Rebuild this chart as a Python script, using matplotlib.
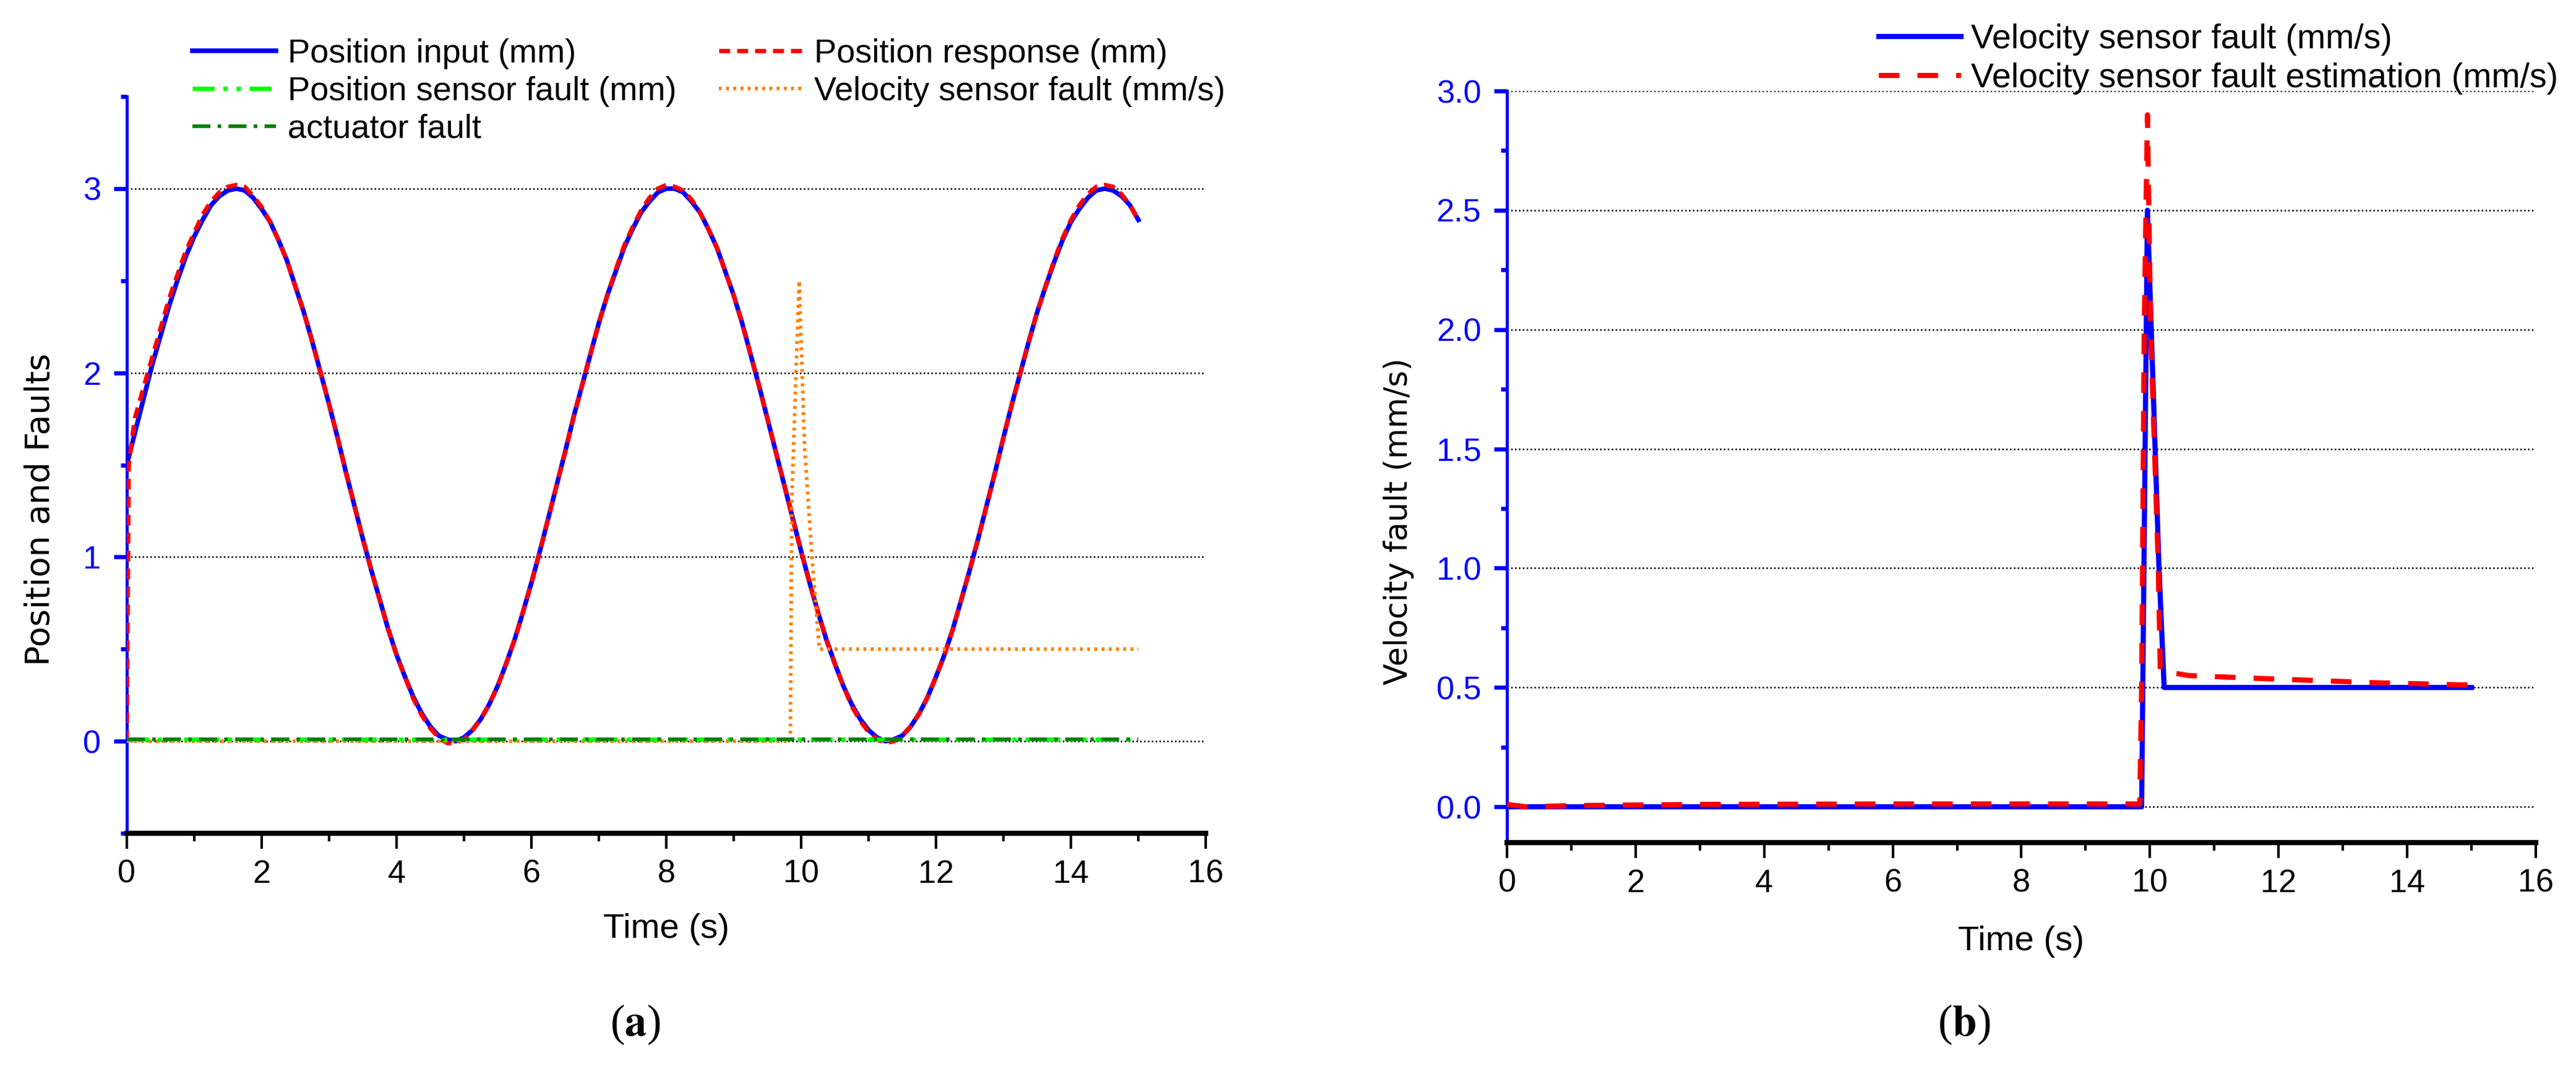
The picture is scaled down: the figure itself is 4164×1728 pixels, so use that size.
import numpy as np
import matplotlib
matplotlib.use("Agg")
import matplotlib.pyplot as plt
from matplotlib.ticker import MultipleLocator, FormatStrFormatter

# ---- data ----
# panel (a): position tracking, read every 0.125 s
time_a = np.linspace(0, 15, 121)
position_input = [1.50, 1.68, 1.86, 2.04, 2.20, 2.36, 2.50, 2.63,
                  2.74, 2.83, 2.91, 2.96, 2.99, 3.00, 2.99, 2.95,
                  2.89, 2.82, 2.72, 2.61, 2.47, 2.33, 2.17, 2.00,
                  1.83, 1.65, 1.46, 1.28, 1.10, 0.93, 0.77, 0.61,
                  0.47, 0.35, 0.24, 0.15, 0.08, 0.03, 0.01, 0.00,
                  0.02, 0.06, 0.12, 0.20, 0.30, 0.42, 0.55, 0.70,
                  0.86, 1.03, 1.21, 1.39, 1.57, 1.76, 1.93, 2.10,
                  2.27, 2.42, 2.55, 2.68, 2.78, 2.87, 2.93, 2.98,
                  3.00, 3.00, 2.98, 2.93, 2.87, 2.78, 2.68, 2.55,
                  2.42, 2.27, 2.10, 1.93, 1.75, 1.57, 1.39, 1.21,
                  1.03, 0.86, 0.70, 0.55, 0.42, 0.30, 0.20, 0.12,
                  0.06, 0.02, 0.00, 0.01, 0.03, 0.08, 0.15, 0.24,
                  0.35, 0.47, 0.61, 0.77, 0.93, 1.10, 1.28, 1.46,
                  1.65, 1.83, 2.00, 2.17, 2.33, 2.47, 2.60, 2.72,
                  2.82, 2.89, 2.95, 2.99, 3.00, 2.99, 2.96, 2.91,
                  2.83]

time_resp = [0.0, 0.03, 0.1] + list(np.linspace(0.125, 15, 120))
position_response = [0.00, 1.50, 1.70,
                     1.76, 1.92, 2.08, 2.24, 2.40, 2.53, 2.66,
                     2.76, 2.86, 2.93, 2.98, 3.01, 3.02, 3.01, 2.96,
                     2.90, 2.82, 2.72, 2.61, 2.47, 2.33, 2.17, 2.00,
                     1.83, 1.65, 1.46, 1.28, 1.10, 0.93, 0.77, 0.61,
                     0.47, 0.35, 0.23, 0.14, 0.07, 0.02, -0.01, -0.01,
                     0.01, 0.06, 0.12, 0.20, 0.30, 0.42, 0.55, 0.70,
                     0.86, 1.03, 1.21, 1.39, 1.57, 1.76, 1.93, 2.10,
                     2.27, 2.42, 2.56, 2.69, 2.79, 2.88, 2.95, 3.00,
                     3.02, 3.01, 2.99, 2.94, 2.87, 2.78, 2.68, 2.55,
                     2.42, 2.27, 2.10, 1.93, 1.75, 1.57, 1.39, 1.21,
                     1.03, 0.86, 0.70, 0.55, 0.42, 0.30, 0.19, 0.11,
                     0.05, 0.01, -0.01, 0.00, 0.03, 0.08, 0.15, 0.24,
                     0.35, 0.47, 0.61, 0.77, 0.93, 1.10, 1.28, 1.46,
                     1.65, 1.83, 2.00, 2.17, 2.33, 2.47, 2.61, 2.73,
                     2.83, 2.91, 2.97, 3.01, 3.02, 3.01, 2.97, 2.91,
                     2.83]

time_zero = [0.0, 15.0]
position_sensor_fault = [0.01, 0.01]
actuator_fault = [0.01, 0.01]

time_vel_a = [0.0, 9.84, 9.86, 9.97, 10.05, 10.16, 10.27, 15.0]
velocity_fault_a = [0.0, 0.0, 1.3, 2.5, 1.6, 1.0, 0.5, 0.5]

# panel (b): velocity sensor fault and its estimate
time_vel = [0.0, 9.87, 9.96, 10.14, 10.22, 15.0]
velocity_fault = [0.0, 0.0, 2.5, 1.0, 0.5, 0.5]

time_est = [0.0, 0.3, 1.0, 3.0, 6.0, 9.0, 9.84, 9.87, 9.91, 9.96, 10.01,
            10.07, 10.13, 10.16, 10.6, 11.5, 12.5, 13.5, 15.0]
velocity_est = [0.01, 0.0, 0.005, 0.01, 0.012, 0.012, 0.012, 0.5, 2.0, 2.9, 2.0,
                1.5, 1.0, 0.57, 0.55, 0.54, 0.53, 0.52, 0.51]

# ---- fonts ----
plt.rcParams["font.family"] = ["Liberation Sans", "DejaVu Sans"]
plt.rcParams["mathtext.fontset"] = "stix"

fig = plt.figure(figsize=(13.88, 5.76), dpi=300)
ax1 = fig.add_axes([0.0492, 0.2205, 0.4189, 0.6892])
ax2 = fig.add_axes([0.5850, 0.2118, 0.3994, 0.7031])


def style_axes(ax):
    for side in ("top", "right"):
        ax.spines[side].set_visible(False)
    ax.spines["left"].set_color("blue")
    ax.spines["left"].set_linewidth(1.2)
    ax.spines["bottom"].set_color("black")
    ax.spines["bottom"].set_linewidth(2.0)
    ax.set_xlim(0, 16)
    ax.xaxis.set_major_locator(MultipleLocator(2))
    ax.xaxis.set_minor_locator(MultipleLocator(1))
    ax.tick_params(axis="x", which="major", length=6, width=1, labelsize=12.5, pad=4)
    ax.tick_params(axis="x", which="minor", length=3, width=1)
    ax.tick_params(axis="y", which="major", colors="blue", length=5, width=1.6,
                   labelsize=12.5, pad=5)
    ax.tick_params(axis="y", which="minor", colors="blue", length=2.5, width=1.6)
    ax.yaxis.grid(True, which="major", linestyle=(0, (1, 1.5)), color="black", lw=0.6)
    ax.set_axisbelow(True)


# panel (a)
ax1.plot(time_a, position_input, color="blue", lw=1.8, label="Position input (mm)", zorder=3)
ax1.plot(time_resp, position_response, color="red", lw=1.7, dashes=(2.5, 1.6),
         label="Position response (mm)", zorder=4)
ax1.plot(time_zero, position_sensor_fault, color="#00ff00", lw=1.7,
         dashes=(5, 2, 1, 2, 1, 2), label="Position sensor fault (mm)", zorder=5)
ax1.plot(time_vel_a, velocity_fault_a, color="#ff8000", lw=1.4, dashes=(0.8, 1.2),
         label="Velocity sensor fault (mm/s)", zorder=4)
ax1.plot(time_zero, actuator_fault, color="#008000", lw=1.4,
         dashes=(5, 2, 1, 2), label="actuator fault", zorder=6)
style_axes(ax1)
ax1.set_ylim(-0.5, 3.5)
ax1.yaxis.set_major_locator(MultipleLocator(1))
ax1.yaxis.set_minor_locator(MultipleLocator(0.5))
ax1.set_ylabel("Position and Faults", family="DejaVu Sans", fontsize=13, va="center")
ax1.yaxis.set_label_coords(-0.08, 0.44)
ax1.set_xlabel("Time (s)", fontsize=13.5, va="center")
ax1.xaxis.set_label_coords(0.5, -0.13)

h, l = ax1.get_legend_handles_labels()
order = [0, 2, 4, 1, 3]
fig.legend([h[i] for i in order], [l[i] for i in order], ncol=2, frameon=False,
           loc="upper left", bbox_to_anchor=(0.0747, 0.964), borderaxespad=0,
           borderpad=0, fontsize=13, handlelength=2.5, handletextpad=0.35,
           columnspacing=1.25, labelspacing=0.2)

# panel (b)
ax2.plot(time_vel, velocity_fault, color="blue", lw=2.0, label="Velocity sensor fault (mm/s)", zorder=3)
ax2.plot(time_est, velocity_est, color="red", lw=2.0, dashes=(4, 3.5),
         label="Velocity sensor fault estimation (mm/s)", zorder=4)
style_axes(ax2)
ax2.set_ylim(-0.15, 3.0)
ax2.yaxis.set_major_locator(MultipleLocator(0.5))
ax2.yaxis.set_minor_locator(MultipleLocator(0.25))
ax2.yaxis.set_major_formatter(FormatStrFormatter("%.1f"))
ax2.set_ylabel("Velocity fault (mm/s)", family="DejaVu Sans", fontsize=12.2, va="center")
ax2.yaxis.set_label_coords(-0.105, 0.427)
ax2.set_xlabel("Time (s)", fontsize=13.5, va="center")
ax2.xaxis.set_label_coords(0.5, -0.132)
ax2.legend(frameon=False, loc="upper left", bbox_to_anchor=(0.7293, 0.978),
           bbox_transform=fig.transFigure, borderaxespad=0, borderpad=0,
           fontsize=13.3, handlelength=2.4, handletextpad=0.3, labelspacing=0.2)

# captions
fig.text(1027 / 4164, 1 - 1656 / 1728, r"($\mathbf{a}$)", family="Liberation Serif",
         fontsize=17, ha="center", va="center")
fig.text(3175 / 4164, 1 - 1656 / 1728, r"($\mathbf{b}$)", family="Liberation Serif",
         fontsize=17, ha="center", va="center")

fig.savefig("out.png", dpi=300)
